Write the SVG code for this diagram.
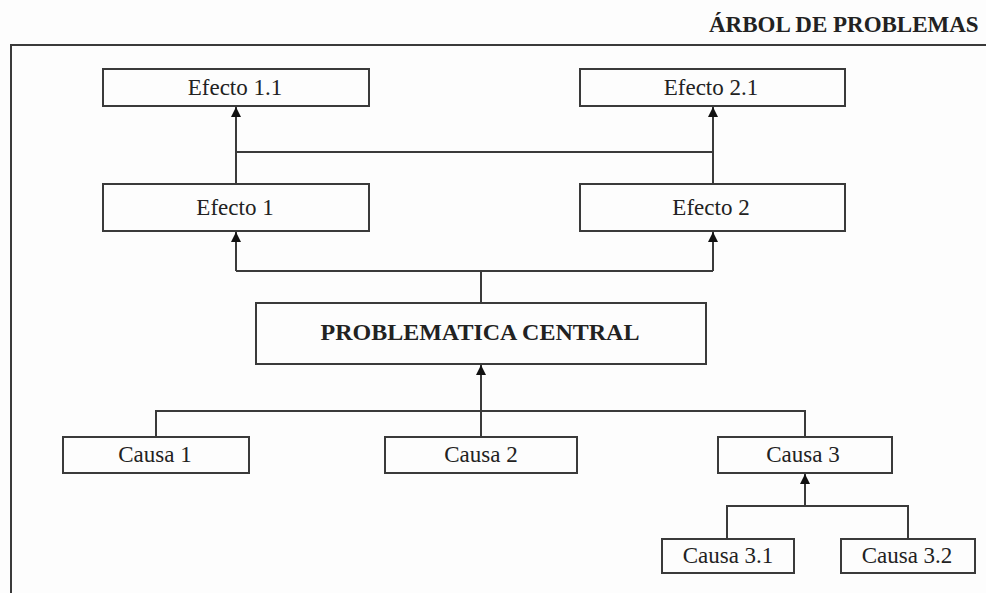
<svg xmlns="http://www.w3.org/2000/svg" width="986" height="593" viewBox="0 0 986 593">
  <style>
    .box { fill: #fdfdfd; stroke: #3a3a3a; stroke-width: 2; }
    .lbl { font-family: "Liberation Serif", "Times New Roman", serif; font-size: 23px; fill: #222; text-anchor: middle; }
    .bold { font-weight: bold; font-size: 24px; }
    .wire { fill: none; stroke: #3a3a3a; stroke-width: 2; }
  </style>
  <defs>
    <marker id="arrow" viewBox="0 0 10 12" refX="10" refY="6" markerWidth="10" markerHeight="12" markerUnits="userSpaceOnUse" orient="auto">
      <path d="M0,1 L10,6 L0,11 Z" fill="#111"/>
    </marker>
  </defs>
  <rect width="986" height="593" fill="#fdfdfd"/>

  <!-- frame and heading -->
  <g id="frame">
    <path class="wire" d="M11,593 V45 H986"/>
    <text x="709" y="32" style="font-family:'Liberation Serif','Times New Roman',serif;font-size:23px;font-weight:bold;fill:#222">ÁRBOL DE PROBLEMAS</text>
  </g>

  <!-- connectors -->
  <g id="connectors">
    <path class="wire" d="M236,184 V107" marker-end="url(#arrow)"/>
    <path class="wire" d="M713,184 V107" marker-end="url(#arrow)"/>
    <path class="wire" d="M236,152 H713"/>
    <path class="wire" d="M481,303 V271"/>
    <path class="wire" d="M236,271 H713"/>
    <path class="wire" d="M236,271 V232" marker-end="url(#arrow)"/>
    <path class="wire" d="M713,271 V232" marker-end="url(#arrow)"/>
    <path class="wire" d="M481,437 V365" marker-end="url(#arrow)"/>
    <path class="wire" d="M156,437 V411 H805 V437"/>
    <path class="wire" d="M805,506 V474" marker-end="url(#arrow)"/>
    <path class="wire" d="M727,539 V506 H908 V539"/>
  </g>

  <g id="efecto-1-1">
    <rect class="box" x="103" y="69" width="266" height="37"/>
    <text class="lbl" x="235" y="95">Efecto 1.1</text>
  </g>
  <g id="efecto-2-1">
    <rect class="box" x="580" y="69" width="265" height="37"/>
    <text class="lbl" x="711" y="95">Efecto 2.1</text>
  </g>
  <g id="efecto-1">
    <rect class="box" x="103" y="184" width="266" height="47"/>
    <text class="lbl" x="235" y="215">Efecto 1</text>
  </g>
  <g id="efecto-2">
    <rect class="box" x="580" y="184" width="265" height="47"/>
    <text class="lbl" x="711" y="215">Efecto 2</text>
  </g>
  <g id="problematica-central">
    <rect class="box" x="256" y="303" width="450" height="61"/>
    <text class="lbl bold" x="480" y="340">PROBLEMATICA CENTRAL</text>
  </g>
  <g id="causa-1">
    <rect class="box" x="63" y="437" width="186" height="36"/>
    <text class="lbl" x="155" y="462">Causa 1</text>
  </g>
  <g id="causa-2">
    <rect class="box" x="385" y="437" width="192" height="36"/>
    <text class="lbl" x="481" y="462">Causa 2</text>
  </g>
  <g id="causa-3">
    <rect class="box" x="718" y="437" width="174" height="36"/>
    <text class="lbl" x="803" y="462">Causa 3</text>
  </g>
  <g id="causa-3-1">
    <rect class="box" x="662" y="539" width="132" height="34"/>
    <text class="lbl" x="728" y="563">Causa 3.1</text>
  </g>
  <g id="causa-3-2">
    <rect class="box" x="841" y="539" width="134" height="34"/>
    <text class="lbl" x="907" y="563">Causa 3.2</text>
  </g>
</svg>
